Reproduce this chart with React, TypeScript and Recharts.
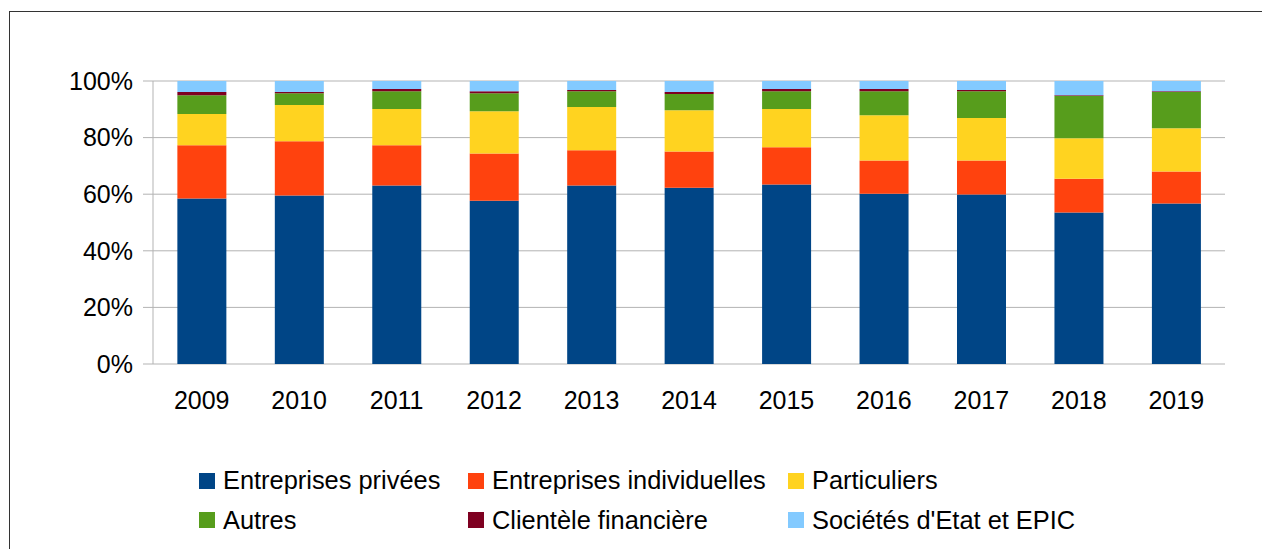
import { BarChart, Bar, XAxis, YAxis, CartesianGrid } from 'recharts';

const years = ['2009', '2010', '2011', '2012', '2013', '2014', '2015', '2016', '2017', '2018', '2019'];
const entreprisesPrivees = [58.5, 59.5, 63.1, 57.7, 63.1, 62.3, 63.4, 60.2, 59.9, 53.5, 56.7];
const entreprisesIndividuelles = [18.8, 19.2, 14.2, 16.7, 12.4, 12.8, 13.2, 11.7, 12.0, 12.0, 11.3];
const particuliers = [11.0, 12.8, 12.8, 14.9, 15.3, 14.6, 13.5, 16.0, 15.0, 14.3, 15.3];
const autres = [6.7, 4.2, 6.3, 6.4, 5.6, 5.7, 6.3, 8.5, 9.5, 14.9, 12.8];
const clienteleFinanciere = [1.1, 0.4, 0.8, 0.7, 0.4, 0.7, 0.8, 0.8, 0.4, 0.3, 0.3];
const societesEtat = [3.9, 3.9, 2.8, 3.6, 3.2, 3.9, 2.8, 2.8, 3.2, 5.0, 3.6];
const yTicks = [0, 0.2, 0.4, 0.6, 0.8, 1];

const SERIES = [
  { key: 'privees', name: 'Entreprises privées', color: '#004586', values: entreprisesPrivees },
  { key: 'individuelles', name: 'Entreprises individuelles', color: '#ff420e', values: entreprisesIndividuelles },
  { key: 'particuliers', name: 'Particuliers', color: '#ffd320', values: particuliers },
  { key: 'autres', name: 'Autres', color: '#579d1c', values: autres },
  { key: 'financiere', name: 'Clientèle financière', color: '#7e0021', values: clienteleFinanciere },
  { key: 'etat', name: "Sociétés d'Etat et EPIC", color: '#83caff', values: societesEtat },
];

// legend is laid out in rows of three, same order as LibreOffice
const LEGEND_ORDER = ['privees', 'individuelles', 'particuliers', 'autres', 'financiere', 'etat'];
const LEGEND_COLS = [269, 320, 300];

const data = years.map((year, i) => {
  const row: Record<string, string | number> = { year };
  SERIES.forEach((s) => {
    row[s.key] = s.values[i];
  });
  return row;
});

// tick marks sit on the category edges, not the centres
const edgeTicks = [...years.map((_, i) => i), years.length];

const GRID = '#b3b3b3';
const FONT = '"Liberation Sans", Arial, sans-serif';

export default function App() {
  return (
    <div style={{ position: 'fixed', left: 0, top: 0, width: 1262, height: 549, overflow: 'hidden', background: '#fff', fontFamily: FONT }}>
      <div
        style={{
          position: 'absolute',
          left: 9,
          top: 11,
          width: 1253,
          height: 538,
          borderTop: '1px solid #333',
          borderLeft: '1px solid #333',
        }}
      />
      <div style={{ position: 'absolute', left: 0, top: 0 }}>
        <BarChart
          width={1262}
          height={549}
          data={data}
          stackOffset="expand"
          barCategoryGap="25%"
          margin={{ top: 81, right: 37, bottom: 85, left: 0 }}
        >
          <CartesianGrid vertical={false} stroke={GRID} />
          <XAxis
            xAxisId={0}
            type="number"
            domain={[0, years.length]}
            ticks={edgeTicks}
            tick={false}
            height={0}
            tickSize={10}
            stroke={GRID}
            allowDataOverflow
          />
          <XAxis
            xAxisId={1}
            dataKey="year"
            height={100}
            axisLine={false}
            tickLine={false}
            tickSize={10}
            tickMargin={17}
            tick={{ fill: '#000', fontSize: 25, fontFamily: FONT }}
            interval={0}
          />
          <YAxis
            type="number"
            domain={[0, 1]}
            ticks={yTicks}
            width={153}
            tickSize={10}
            tickMargin={10}
            stroke={GRID}
            tick={{ fill: '#000', fontSize: 25, fontFamily: FONT }}
            tickFormatter={(v: number) => `${Math.round(v * 100)}%`}
          />
          <YAxis
            yAxisId="right"
            orientation="right"
            type="number"
            domain={[0, 1]}
            width={0}
            tick={false}
            tickLine={false}
            stroke={GRID}
          />
          {SERIES.map((s) => (
            <Bar
              key={s.key}
              xAxisId={1}
              dataKey={s.key}
              name={s.name}
              stackId="a"
              fill={s.color}
              isAnimationActive={false}
            />
          ))}
        </BarChart>
      </div>
      <div style={{ position: 'absolute', left: 199, top: 461, display: 'grid', gridTemplateColumns: LEGEND_COLS.map((w) => `${w}px`).join(' '), gridAutoRows: '39.5px' }}>
        {LEGEND_ORDER.map((k) => {
          const s = SERIES.find((x) => x.key === k)!;
          return (
            <div key={k} style={{ display: 'flex', alignItems: 'center', fontSize: 25.4, color: '#000', whiteSpace: 'nowrap' }}>
              <span style={{ width: 16, height: 16, background: s.color, marginRight: 8, flex: 'none' }} />
              {s.name}
            </div>
          );
        })}
      </div>
    </div>
  );
}
